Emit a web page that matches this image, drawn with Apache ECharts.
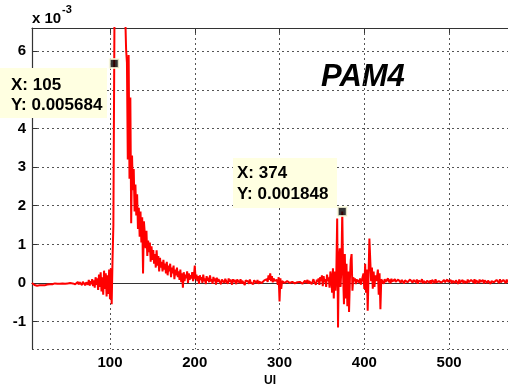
<!DOCTYPE html>
<html><head><meta charset="utf-8">
<script src="https://cdn.jsdelivr.net/npm/echarts@6/dist/echarts.min.js"></script>
<style>html,body{margin:0;padding:0;background:#fff}#c{width:508px;height:392px}</style>
</head><body><div id="c"></div>
<script>
// UI index of first sample; values in units of 1e-3
const uiStart = 8;
const signal = [
0.00,-0.02,-0.04,-0.05,-0.06,-0.05,-0.07,-0.06,-0.05,-0.06,-0.04,-0.05,-0.06,
-0.05,-0.04,-0.06,-0.03,-0.05,-0.04,-0.02,-0.05,-0.03,-0.04,-0.02,-0.03,-0.05,-0.02,-0.01,-0.03,-0.04,-0.02,0.00,-0.03,
-0.02,0.01,-0.03,-0.01,-0.04,0.00,-0.02,0.02,-0.03,-0.01,0.01,-0.04,0.00,-0.02,0.03,-0.01,-0.05,0.02,-0.03,0.01,
-0.02,0.03,-0.04,0.02,-0.01,0.04,-0.05,0.03,-0.02,0.05,-0.06,0.02,0.06,-0.04,0.08,-0.07,0.05,-0.03,0.10,-0.08,
0.07,-0.12,0.15,-0.05,0.12,-0.18,0.22,-0.10,0.28,-0.22,0.15,-0.30,0.32,-0.15,0.25,-0.35,0.20,-0.28,0.35,-0.42,
0.38,-0.55,0.60,1.50,5.684,9.80,12.5,14.0,14.5,14.2,13.5,12.6,11.5,10.4,9.3,8.3,7.4,6.9,6.05,5.70,
3.20,5.90,2.70,4.80,1.55,3.30,2.40,2.95,1.85,2.55,1.75,2.30,1.40,1.95,1.20,1.85,1.05,1.70,0.25,1.60,
1.30,0.90,1.35,0.70,1.10,0.80,1.05,0.55,0.95,0.60,0.85,0.50,0.75,0.40,0.85,0.45,0.70,0.30,0.65,0.40,
0.55,0.30,0.60,0.35,0.50,0.25,0.55,0.20,0.45,0.30,0.50,0.15,0.40,0.25,0.45,0.10,0.35,0.20,0.40,0.15,
0.30,0.08,0.35,0.02,0.25,-0.12,0.28,0.05,0.22,0.12,0.30,0.00,0.25,0.08,0.20,0.12,0.28,0.05,0.18,0.45,
0.10,0.22,0.05,0.18,-0.02,0.20,0.08,0.15,0.00,0.22,0.05,0.12,-0.03,0.18,0.06,0.14,0.02,0.20,0.04,0.10,
-0.02,0.16,0.05,0.12,-0.04,0.14,0.03,0.10,0.06,0.15,-0.03,0.09,0.04,0.13,0.00,0.11,0.05,0.08,-0.02,0.12,
0.03,0.09,0.06,-0.04,0.10,0.02,0.08,0.05,-0.03,0.09,0.04,0.07,0.00,0.10,-0.02,0.06,0.03,0.08,-0.05,0.07,
0.02,0.06,0.04,-0.02,0.09,0.01,0.05,0.03,-0.03,0.07,0.02,0.05,0.00,0.08,-0.02,0.04,0.02,0.06,0.00,0.05,
-0.01,0.07,0.02,0.04,0.10,0.03,0.20,0.08,0.25,0.05,0.18,0.02,0.12,0.06,0.10,0.04,0.08,-0.05,0.15,-0.48,
0.12,-0.15,0.05,0.02,0.06,0.00,0.04,0.02,0.05,0.01,0.03,0.00,0.04,-0.01,0.03,0.01,0.02,-0.01,0.03,0.00,
0.02,0.04,-0.01,0.03,0.01,0.05,-0.02,0.03,0.02,0.06,0.00,0.04,0.08,-0.02,0.05,0.02,0.07,-0.03,0.04,0.10,
0.02,0.06,-0.04,0.09,0.03,0.12,-0.05,0.15,0.05,0.20,-0.08,0.18,0.02,0.10,-0.10,0.22,0.05,0.15,-0.12,0.30,
0.15,-0.25,0.38,-0.40,0.30,-0.20,0.25,1.67,-1.15,0.60,0.90,-0.10,0.40,1.848,0.20,-0.55,0.75,-0.40,0.50,-0.60,
0.30,-0.75,0.10,0.60,0.75,-0.20,0.15,0.05,0.12,-0.03,0.10,0.02,0.08,0.00,0.12,-0.04,0.06,0.10,0.25,-0.15,
0.50,-0.25,0.35,-0.72,0.20,1.15,0.60,0.05,0.40,-0.15,0.30,-0.10,0.20,0.05,0.15,0.35,-0.30,0.25,-0.68,0.10,
0.05,0.12,-0.02,0.10,0.03,0.08,0.00,0.12,0.02,0.09,-0.01,0.11,0.04,0.07,0.01,0.10,0.03,0.06,0.00,0.09,
0.04,0.11,0.01,0.08,0.03,0.10,-0.01,0.07,0.05,0.12,0.02,0.06,0.00,0.09,0.04,0.11,0.01,0.08,0.03,0.07,
0.02,0.09,-0.02,0.06,0.01,0.08,0.03,0.10,-0.01,0.05,0.02,0.09,0.00,0.06,0.04,0.11,0.01,0.07,-0.02,0.08,
0.03,0.06,0.00,0.10,0.02,0.07,-0.01,0.05,0.03,0.09,0.01,0.06,-0.02,0.08,0.02,0.05,0.00,0.09,0.03,0.06,
0.01,0.08,-0.01,0.06,0.02,0.10,0.00,0.07,0.03,0.05,-0.02,0.09,0.01,0.06,0.02,0.08,-0.01,0.05,0.03,0.07,
0.00,0.09,0.02,0.06,-0.01,0.08,0.03,0.05,0.01,0.10,-0.02,0.07,0.02,0.06,0.00,0.09,0.03,0.05,0.01,0.08,
-0.01,0.07,0.02,0.10,0.00,0.06,0.03,0.08,-0.02,0.05,0.01,0.09,0.02,0.06,-0.01,0.08,0.03,0.07,0.00,0.10,
0.02,0.06,-0.01,0.08,0.03,0.05,0.00,0.09,0.02,0.06
];
const tipX = [105, 374];
const tipY = [5.684, 1.848];
const xRange = [8, 569.5];
const yRange = [-1.71, 6.6];

const chart = echarts.init(document.getElementById('c'), null, {renderer: 'canvas'});
const font = 'Arial, "Liberation Sans", sans-serif';
const lineData = signal.map((v, i) => [uiStart + i, v]);
const tipData = tipX.map((x, i) => [x, tipY[i]]);
const gridLine = {show: true, lineStyle: {color: '#555', type: [2, 3], width: 1}};
const axisLine = {show: true, lineStyle: {color: '#333', width: 1.2}};
const tick = {show: true, inside: true, length: 5, lineStyle: {color: '#333'}};
const lbl = {color: '#000', fontSize: 15, fontWeight: 'bold', fontFamily: font, showMinLabel: false, showMaxLabel: false};
const tipText = (i) => 'X: ' + tipX[i] + '\nY: ' + (tipY[i] / 1000).toFixed(6);

chart.setOption({
  animation: false,
  backgroundColor: '#fff',
  grid: {left: 32, right: 0, top: 28, bottom: 39},
  xAxis: [
    {type: 'value', min: xRange[0], max: xRange[1], minInterval: 100, maxInterval: 100, position: 'bottom',
     axisLine, axisTick: tick, axisLabel: Object.assign({margin: 6}, lbl), splitLine: gridLine,
     name: 'UI', nameLocation: 'middle', nameGap: 25,
     nameTextStyle: {color: '#000', fontSize: 12, fontWeight: 'bold', fontFamily: font}},
    {type: 'value', min: xRange[0], max: xRange[1], minInterval: 100, maxInterval: 100, position: 'top',
     axisLine, axisTick: tick, axisLabel: {show: false}, splitLine: {show: false}}
  ],
  yAxis: {type: 'value', min: yRange[0], max: yRange[1], minInterval: 1, maxInterval: 1,
    axisLine, axisTick: tick, axisLabel: Object.assign({margin: 6}, lbl), splitLine: gridLine},
  series: [
    {type: 'line', data: lineData, showSymbol: false, clip: true,
     lineStyle: {color: '#ff0000', width: 2}, z: 3},
    {type: 'scatter', data: tipData, symbol: 'rect', symbolSize: 9,
     itemStyle: {color: '#000', borderColor: '#ffffe1', borderWidth: 2}, z: 5}
  ],
  graphic: [
    {type: 'text', left: 32, top: 11, style: {text: 'x 10', font: 'bold 15px ' + font, fill: '#000'}},
    {type: 'text', left: 62, top: 4, style: {text: '-3', font: 'bold 11px ' + font, fill: '#000'}},
    {type: 'text', left: 321, top: 62, style: {text: 'PAM4', font: 'italic bold 31px ' + font, fill: '#000'}},
    {type: 'rect', shape: {x: 0, y: 68, width: 107, height: 50}, style: {fill: '#ffffe1'}, z: 10},
    {type: 'text', x: 11, y: 75, z: 11, style: {text: tipText(0), font: 'bold 17px ' + font, fill: '#000', lineHeight: 20}},
    {type: 'rect', shape: {x: 233, y: 158, width: 104, height: 50}, style: {fill: '#ffffe1'}, z: 10},
    {type: 'text', x: 237, y: 163, z: 11, style: {text: tipText(1), font: 'bold 17px ' + font, fill: '#000', lineHeight: 21}}
  ]
});
</script></body></html>
